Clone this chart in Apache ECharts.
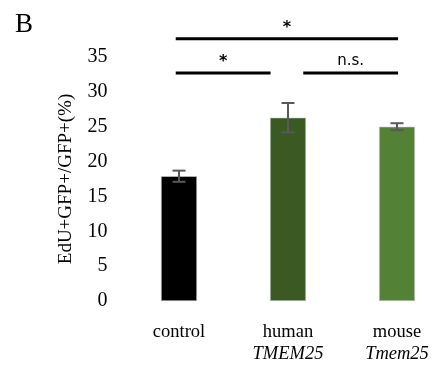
<!DOCTYPE html>
<html>
<head>
<meta charset="utf-8">
<script src="https://cdn.jsdelivr.net/npm/echarts@6/dist/echarts.min.js"></script>
<style>
html, body { margin: 0; padding: 0; background: #fff; }
#chart { width: 432px; height: 367px; }
</style>
</head>
<body>
<div id="chart"></div>
<script>
// 数据
const categories = ['control', 'human', 'mouse']
const subLabels = ['', 'TMEM25', 'Tmem25']
const means = [17.9, 26.3, 25.0]
const errors = [0.8, 2.1, 0.5]
const barColors = ['#000000', '#3b5a23', '#538135']
const yTicks = [0, 5, 10, 15, 20, 25, 30, 35]
// significance brackets: [from, to, level, label] (x in category units)
const brackets = [
  [-0.03, 2.01, 37.6, '*'],
  [-0.03, 0.84, 32.7, '*'],
  [1.14, 2.01, 32.7, 'n.s.']
]

const chart = echarts.init(document.getElementById('chart'))

const option = {
  backgroundColor: '#ffffff',
  animation: false,
  title: {
    text: 'B',
    left: 10,
    top: 6,
    textStyle: { fontFamily: 'Liberation Serif', fontSize: 27, fontWeight: 'normal', color: '#000' }
  },
  grid: { left: 124.5, right: -19.5, top: 57, bottom: 66, outerBoundsMode: 'none', containLabel: false },
  xAxis: [{
    type: 'category',
    data: categories,
    axisLine: { show: false },
    axisTick: { show: false },
    axisLabel: {
      margin: 20,
      formatter: (v, i) => subLabels[i] ? '{a|' + v + '}\n{b|' + subLabels[i] + '}' : '{a|' + v + '}',
      rich: {
        a: { fontFamily: 'Liberation Serif', fontSize: 18.5, color: '#000', lineHeight: 22 },
        b: { fontFamily: 'Liberation Serif', fontSize: 18.5, fontStyle: 'italic', color: '#000', lineHeight: 22 }
      }
    }
  }, {
    type: 'value',
    min: -0.5,
    max: 2.5,
    show: false
  }],
  yAxis: {
    type: 'value',
    min: 0,
    max: 35,
    interval: 5,
    name: 'EdU+GFP+/GFP+(%)',
    nameLocation: 'middle',
    nameGap: 49,
    nameTextStyle: { fontFamily: 'Liberation Serif', fontSize: 19, color: '#000' },
    axisLine: { show: false },
    axisTick: { show: false },
    splitLine: { show: false },
    axisLabel: {
      margin: 17,
      fontFamily: 'Liberation Serif',
      fontSize: 20,
      color: '#000',
      customValues: yTicks
    }
  },
  series: [{
    type: 'bar',
    barWidth: 36,
    data: means.map((v, i) => ({ value: v, itemStyle: { color: barColors[i] } })),
    itemStyle: { borderColor: '#cfcfcf', borderWidth: 0.6 }
  }, {
    type: 'custom',
    data: means.map((v, i) => [i, v - errors[i], v + errors[i]]),
    renderItem: (params, api) => {
      const lo = api.coord([api.value(0), api.value(1)])
      const hi = api.coord([api.value(0), api.value(2)])
      const hw = 6.5
      const style = { stroke: '#595959', lineWidth: 2 }
      return {
        type: 'group',
        children: [
          { type: 'line', shape: { x1: hi[0], y1: hi[1], x2: lo[0], y2: lo[1] }, style },
          { type: 'line', shape: { x1: hi[0] - hw, y1: hi[1], x2: hi[0] + hw, y2: hi[1] }, style },
          { type: 'line', shape: { x1: lo[0] - hw, y1: lo[1], x2: lo[0] + hw, y2: lo[1] }, style }
        ]
      }
    },
    z: 5
  }, {
    type: 'custom',
    xAxisIndex: 1,
    clip: false,
    data: brackets,
    renderItem: (params, api) => {
      const p1 = api.coord([api.value(0), api.value(2)])
      const p2 = api.coord([api.value(1), api.value(2)])
      const label = brackets[params.dataIndex][3]
      const isStar = label === '*'
      return {
        type: 'group',
        children: [
          { type: 'line', shape: { x1: p1[0], y1: p1[1], x2: p2[0], y2: p2[1] }, style: { stroke: '#000', lineWidth: 3 } },
          {
            type: 'text',
            x: (p1[0] + p2[0]) / 2,
            y: p1[1] - (isStar ? 11 : 12),
            style: {
              text: label,
              align: 'center',
              verticalAlign: 'middle',
              fontFamily: 'DejaVu Sans',
              fontSize: isStar ? 16 : 15,
              fontWeight: isStar ? 'bold' : 'normal',
              fill: '#000'
            }
          }
        ]
      }
    }
  }]
}

chart.setOption(option)
</script>
</body>
</html>
